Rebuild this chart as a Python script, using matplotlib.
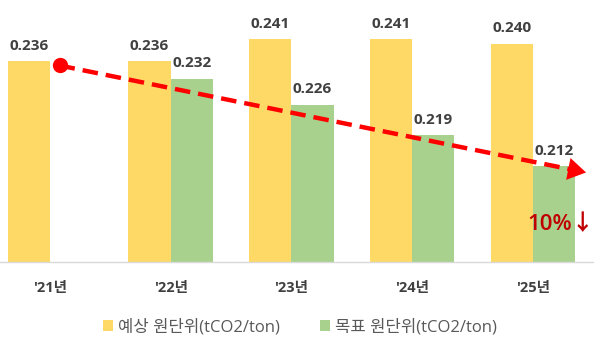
import matplotlib.pyplot as plt
import numpy as np

plt.rcParams['font.family'] = ['Open Sans', 'Noto Sans CJK KR', 'DejaVu Sans']

years = ["'21년", "'22년", "'23년", "'24년", "'25년"]
expected = [0.236, 0.236, 0.241, 0.241, 0.240]
target = [None, 0.232, 0.226, 0.219, 0.212]
trend_start = (0.08, 0.2350)
trend_end = (4.44, 0.2105)

yellow = '#FFD966'
green = '#A9D18E'
red = '#FF0000'

fig = plt.figure(figsize=(6, 3.42), dpi=100)
ax = fig.add_axes([0, 0.234, 0.988, 0.766])

x = np.arange(len(years))
w = 0.35
ax.bar(x - w / 2, expected, w, color=yellow, label='예상 원단위(tCO2/ton)')
tx = [i for i, v in zip(x, target) if v is not None]
tv = [v for v in target if v is not None]
ax.bar(np.array(tx) + w / 2, tv, w, color=green, label='목표 원단위(tCO2/ton)')

for i, v in zip(x, expected):
    ax.annotate(f'{v:.3f}', (i - w / 2, v), xytext=(0, 6), textcoords='offset points',
                ha='center', va='bottom', fontsize=11, fontweight='bold', color='#404040')
for i, v in zip(tx, tv):
    ax.annotate(f'{v:.3f}', (i + w / 2, v), xytext=(0, 6), textcoords='offset points',
                ha='center', va='bottom', fontsize=11, fontweight='bold', color='#404040')

# trend arrow
ax.plot([trend_start[0], trend_end[0] - 0.1], [trend_start[1], trend_end[1] + 0.00055],
        color=red, lw=3.2, dashes=(3.5, 1.8), solid_capstyle='butt')
ax.plot(*trend_start, 'o', color=red, ms=10)
ax.annotate('', xy=trend_end, xytext=(trend_end[0] - 0.12, trend_end[1] + 0.00066),
            arrowprops=dict(arrowstyle='-|>,head_length=1.3,head_width=0.8',
                            color=red, lw=0, shrinkA=0, shrinkB=0))
ax.text(4.505, 0.1985, '10%↓', ha='right', va='center', fontsize=16,
        fontweight='semibold', color='#C00000')

ax.set_xlim(-0.413, 4.496)
ax.set_ylim(0.19, 0.25)
ax.set_yticks([])
ax.set_xticks(x)
ax.set_xticklabels(years, fontsize=10.5, fontweight='bold', color='#404040')
ax.tick_params(axis='x', length=0, pad=14)
for s in ['top', 'right', 'left']:
    ax.spines[s].set_visible(False)
ax.spines['bottom'].set_color('#D9D9D9')
ax.spines['bottom'].set_linewidth(1)

fig.legend(loc='lower center', bbox_to_anchor=(0.5, -0.025), ncol=2, frameon=False,
           fontsize=12, handlelength=0.6, handleheight=0.6, handletextpad=0.3,
           columnspacing=2.4, labelcolor='#595959')

fig.savefig('out.png', dpi=100)
